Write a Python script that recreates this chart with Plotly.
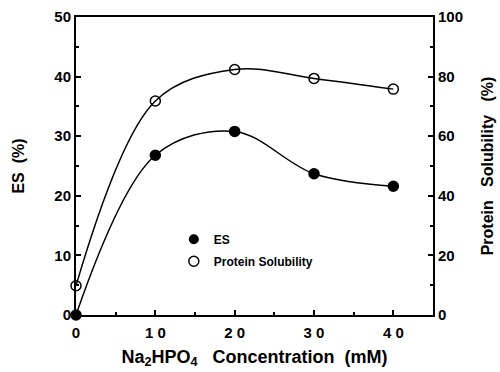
import plotly.graph_objects as go

conc = [0, 10, 20, 30, 40]
es_values = [0, 26.8, 30.8, 23.7, 21.6]
solubility_values = [9.8, 71.8, 82.4, 79.4, 75.8]
x_tickvals = [0, 10, 20, 30, 40]
x_ticktext = ["0", "1 0", "2 0", "3 0", "4 0"]
y_tickvals = [0, 10, 20, 30, 40, 50]
y2_tickvals = [0, 20, 40, 60, 80, 100]

FONT = "Liberation Sans, Arial, sans-serif"
NB = "\u00a0"

fig = go.Figure()
fig.add_trace(go.Scatter(
    x=conc, y=es_values, mode="lines+markers", showlegend=False,
    line=dict(color="black", width=1.5, shape="spline", smoothing=1.0),
    marker=dict(symbol="circle", size=10, color="black", line=dict(color="black", width=1.5)),
    cliponaxis=False,
))
fig.add_trace(go.Scatter(
    x=conc, y=solubility_values, mode="lines+markers", showlegend=False, yaxis="y2",
    line=dict(color="black", width=1.5, shape="spline", smoothing=1.0),
    marker=dict(symbol="circle-open", size=10, color="black", line=dict(color="black", width=1.5)),
    cliponaxis=False,
))
# legend entries
fig.add_trace(go.Scatter(
    x=[None], y=[None], mode="markers", name="ES", legendgroup="a",
    marker=dict(symbol="circle", size=10, color="black"),
))
fig.add_trace(go.Scatter(
    x=[None], y=[None], mode="markers", name="Protein Solubility", legendgroup="b",
    marker=dict(symbol="circle-open", size=10, color="black", line=dict(width=1.5)),
))

axis_common = dict(
    showline=True, linecolor="black", linewidth=2, ticks="inside", ticklen=5,
    tickcolor="black", tickwidth=1.5, showgrid=False, zeroline=False, automargin=False,
    tickfont=dict(family=FONT, size=15, color="black", weight="bold"),
)

fig.update_layout(
    width=500, height=372,
    margin=dict(l=76, r=67, t=17, b=57),
    plot_bgcolor="white", paper_bgcolor="white",
    font=dict(family=FONT, color="black", weight="bold"),
    xaxis=dict(
        range=[0, 45], tickvals=x_tickvals, ticktext=x_ticktext, mirror=True,
        ticklabelstandoff=3,
        minor=dict(ticks="inside", ticklen=3, tickcolor="black", dtick=5),
        title=dict(text=f"Na<sub>2</sub>HPO<sub>4</sub>{NB}{NB}{NB}Concentration{NB}{NB}(mM)",
                   font=dict(family=FONT, size=18, color="black", weight="bold"), standoff=10),
        **axis_common,
    ),
    yaxis=dict(
        range=[0, 50], tickvals=y_tickvals, mirror=True,
        minor=dict(ticks="inside", ticklen=3, tickcolor="black", dtick=5),
        title=dict(text=f"ES{NB}{NB}(%)", font=dict(family=FONT, size=16, color="black", weight="bold"),
                   standoff=26),
        **axis_common,
    ),
    yaxis2=dict(
        range=[0, 100], tickvals=y2_tickvals, overlaying="y", side="right",
        minor=dict(ticks="inside", ticklen=3, tickcolor="black", dtick=10),
        title=dict(text=f"Protein{NB}{NB}{NB}Solubility{NB}{NB}{NB}(%)",
                   font=dict(family=FONT, size=16, color="black", weight="bold"), standoff=20),
        **axis_common,
    ),
    legend=dict(
        x=0.274, y=0.303, xanchor="left", yanchor="top", bgcolor="rgba(0,0,0,0)",
        font=dict(family=FONT, size=12, color="black", weight="bold"),
        tracegroupgap=3, traceorder="grouped",
    ),
)

fig.write_html("out.html", config={"displayModeBar": False},
               post_script="document.body.style.margin='0px';")
